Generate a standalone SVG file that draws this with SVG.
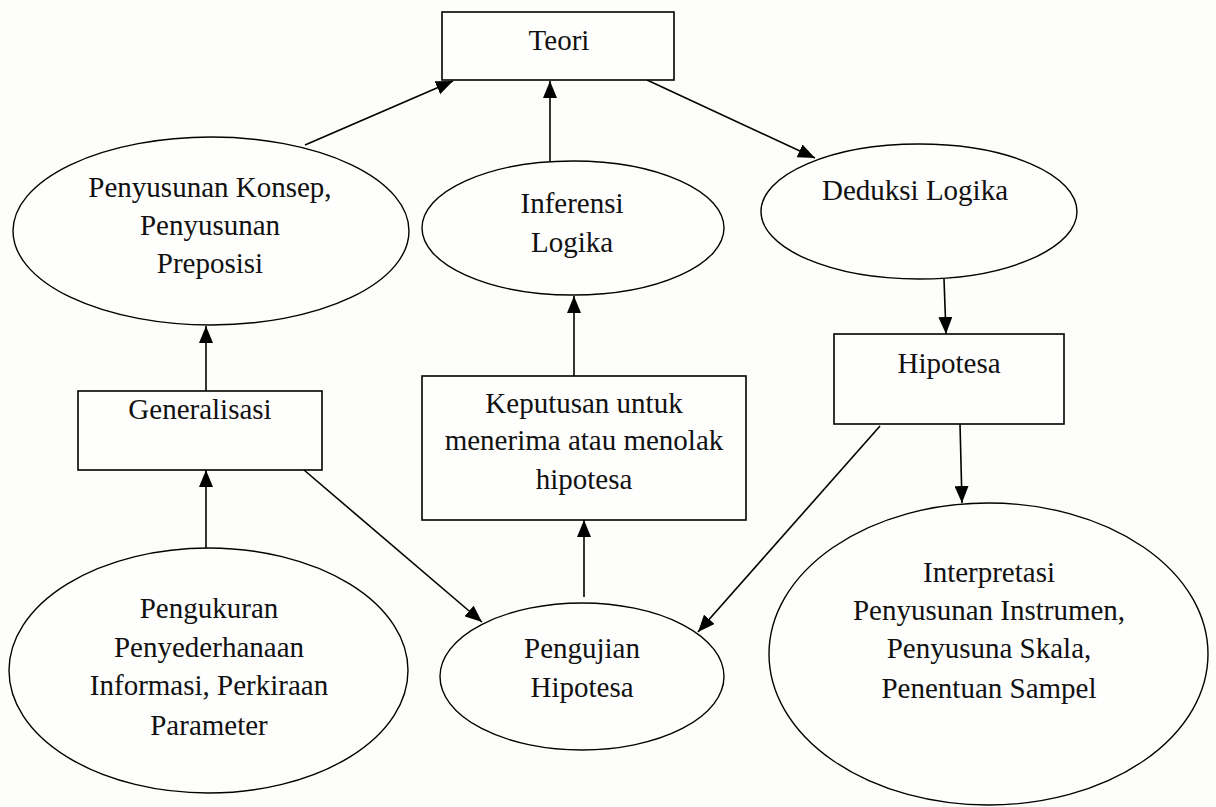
<svg xmlns="http://www.w3.org/2000/svg" width="1216" height="807" viewBox="0 0 1216 807">
<defs>
<marker id="arr" markerUnits="userSpaceOnUse" markerWidth="18" markerHeight="14" refX="17" refY="7" orient="auto">
<path d="M0,0 L17,7 L0,14 Z" fill="#000"/>
</marker>
<style>
.box{fill:#fff;fill-opacity:0.6;stroke:#000;stroke-width:1.6}
.ell{fill:#fff;fill-opacity:0.6;stroke:#000;stroke-width:1.4}
.t{font-family:"Liberation Serif","Times New Roman",serif;font-size:29px;fill:#111;text-anchor:middle}
.c{fill:none;stroke:#000;stroke-width:1.6;marker-end:url(#arr)}
</style>
</defs>
<rect width="1216" height="807" fill="#fdfdfa"/>
<g id="connectors">
<path class="c" d="M305,145 L453,81"/>
<path class="c" d="M550,161 L550,81"/>
<path class="c" d="M647,80 L815,158"/>
<path class="c" d="M944,279 L946,334"/>
<path class="c" d="M206,391 L206,326"/>
<path class="c" d="M206,548 L206,470"/>
<path class="c" d="M304,470 L482,622"/>
<path class="c" d="M584,597 L584,520"/>
<path class="c" d="M574,376 L574,296"/>
<path class="c" d="M880,426 L698,632"/>
<path class="c" d="M960,424 L962,503"/>
</g>
<g id="teori">
<rect class="box" x="442" y="12" width="232" height="68"/>
<text class="t" x="559" y="50">Teori</text>
</g>
<g id="penyusunan-konsep">
<ellipse class="ell" cx="211" cy="231" rx="198" ry="94"/>
<text class="t" x="210" y="197">Penyusunan Konsep,</text>
<text class="t" x="210" y="235">Penyusunan</text>
<text class="t" x="210" y="273">Preposisi</text>
</g>
<g id="inferensi-logika">
<ellipse class="ell" cx="573" cy="228" rx="151" ry="67"/>
<text class="t" x="572" y="213">Inferensi</text>
<text class="t" x="572" y="252">Logika</text>
</g>
<g id="deduksi-logika">
<ellipse class="ell" cx="919" cy="211.5" rx="158" ry="67.5"/>
<text class="t" x="915" y="200">Deduksi Logika</text>
</g>
<g id="generalisasi">
<rect class="box" x="78" y="391" width="244" height="79"/>
<text class="t" x="200" y="419">Generalisasi</text>
</g>
<g id="keputusan">
<rect class="box" x="422" y="376" width="324" height="144"/>
<text class="t" x="584" y="413">Keputusan untuk</text>
<text class="t" x="584" y="450">menerima atau menolak</text>
<text class="t" x="584" y="489">hipotesa</text>
</g>
<g id="hipotesa">
<rect class="box" x="834" y="334" width="230" height="90"/>
<text class="t" x="949" y="373">Hipotesa</text>
</g>
<g id="pengukuran">
<ellipse class="ell" cx="208.5" cy="670.5" rx="199.5" ry="122.5"/>
<text class="t" x="209" y="618">Pengukuran</text>
<text class="t" x="209" y="657">Penyederhanaan</text>
<text class="t" x="209" y="695">Informasi, Perkiraan</text>
<text class="t" x="209" y="735">Parameter</text>
</g>
<g id="pengujian">
<ellipse class="ell" cx="582" cy="676.5" rx="142" ry="73.5"/>
<text class="t" x="582" y="658">Pengujian</text>
<text class="t" x="582" y="697">Hipotesa</text>
</g>
<g id="interpretasi">
<ellipse class="ell" cx="988.5" cy="654" rx="219.5" ry="151"/>
<text class="t" x="989" y="582">Interpretasi</text>
<text class="t" x="989" y="620">Penyusunan Instrumen,</text>
<text class="t" x="989" y="658">Penyusuna Skala,</text>
<text class="t" x="989" y="698">Penentuan Sampel</text>
</g>
</svg>
